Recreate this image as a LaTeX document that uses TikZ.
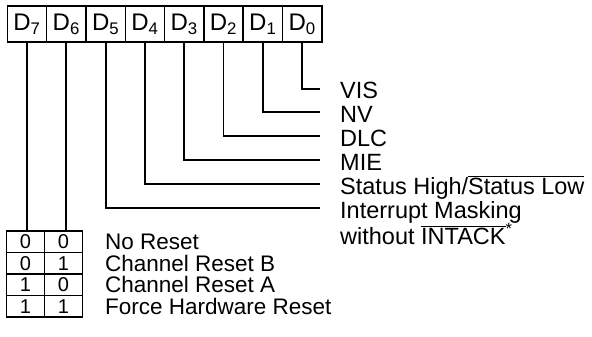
\documentclass[tikz,border=0pt]{standalone}
\usepackage{fontspec}
\setmainfont{Liberation Sans}
\usetikzlibrary{positioning}
\newcommand{\topbar}[1]{$\overline{\hbox{#1}}$}
\begin{document}
\begin{tikzpicture}[x=1pt, y=-1pt,
  bit/.style={rectangle, draw, line width=1.5pt, minimum width=39.3pt,
    minimum height=36pt, inner sep=0pt, font=\fontsize{24}{24}\selectfont},
  cell/.style={rectangle, draw, line width=1.5pt, minimum width=38pt,
    minimum height=21.5pt, inner sep=0pt, font=\fontsize{20}{20}\selectfont},
  lbl/.style={anchor=base west, inner sep=0pt,
    font=\fontsize{23.5}{23.5}\selectfont},
  rst/.style={lbl, font=\fontsize{22.5}{22.5}\selectfont},
  wire/.style={line width=1.8pt}
]
  \useasboundingbox (0,0) rectangle (592,337);
  % register bits
  \node[bit] (d7) at (27,24) {D\textsubscript{7}};
  \node[bit] (d6) at (66.3,24) {D\textsubscript{6}};
  \node[bit] (d5) at (105.6,24) {D\textsubscript{5}};
  \node[bit] (d4) at (144.9,24) {D\textsubscript{4}};
  \node[bit] (d3) at (184.2,24) {D\textsubscript{3}};
  \node[bit] (d2) at (223.5,24) {D\textsubscript{2}};
  \node[bit] (d1) at (262.8,24) {D\textsubscript{1}};
  \node[bit] (d0) at (302.1,24) {D\textsubscript{0}};
  % bit names
  \node[lbl] (vis) at (340,99) {VIS};
  \node[lbl] (nv) at (340,122) {NV};
  \node[lbl] (dlc) at (340,146) {DLC};
  \node[lbl] (mie) at (340,170) {MIE};
  \node[lbl] (st) at (340,194) {Status High/\topbar{Status Low}};
  \node[lbl] (im) at (340,218) {Interrupt Masking};
  \node[lbl] (im2) at (340,244) {without \topbar{INTACK}\textsuperscript{*}};
  \coordinate (e0) at (320,89);
  \coordinate (e1) at (320,112);
  \coordinate (e2) at (320,136);
  \coordinate (e3) at (320,160);
  \coordinate (e4) at (320,184);
  \coordinate (e5) at (320,208);
  \draw[wire] (d0.south) |- (e0);
  \draw[wire] (d1.south) |- (e1);
  \draw[wire] (d2.south) |- (e2);
  \draw[wire] (d3.south) |- (e3);
  \draw[wire] (d4.south) |- (e4);
  \draw[wire] (d5.south) |- (e5);
  % reset table
  \node[cell] (a0) at (25.5,241.75) {0};
  \node[cell] (b0) at (63.5,241.75) {0};
  \node[cell] (a1) at (25.5,263.25) {0};
  \node[cell] (b1) at (63.5,263.25) {1};
  \node[cell] (a2) at (25.5,284.75) {1};
  \node[cell] (b2) at (63.5,284.75) {0};
  \node[cell] (a3) at (25.5,306.25) {1};
  \node[cell] (b3) at (63.5,306.25) {1};
  \node[rst] (r0) at (105,249.5) {No Reset};
  \node[rst] (r1) at (105,271) {Channel Reset B};
  \node[rst] (r2) at (105,292.5) {Channel Reset A};
  \node[rst] (r3) at (105,314) {Force Hardware Reset};
  \draw[wire] (d7.south) -- (d7.south |- a0.north);
  \draw[wire] (d6.south) -- (d6.south |- b0.north);
\end{tikzpicture}
\end{document}
